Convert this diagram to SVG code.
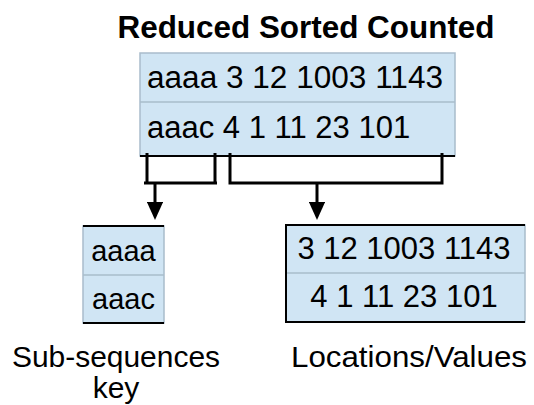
<svg xmlns="http://www.w3.org/2000/svg" width="534" height="405" viewBox="0 0 534 405">
<style>
text{font-family:"Liberation Sans",Arial,Helvetica,sans-serif;fill:#000}
.t{font-size:31px}
.s{font-size:29px}
.l{font-size:30px}
.title{font-size:31px;font-weight:bold}
.cell{fill:#d0e5f4;stroke:#a9bccb;stroke-width:1.5}
.div{stroke:#a9bccb;stroke-width:1.5}
.edge{stroke:#000;stroke-width:2;fill:none}
.conn{stroke:#000;stroke-width:3;fill:none}
</style>
<defs>
<marker id="ah" markerWidth="6" markerHeight="5.4" refX="0" refY="2.7" orient="auto" markerUnits="strokeWidth">
<path d="M0,0 L6,2.7 L0,5.4 Z" fill="#000"/>
</marker>
</defs>
<text class="title" x="306" y="38" text-anchor="middle" textLength="377" lengthAdjust="spacingAndGlyphs">Reduced Sorted Counted</text>
<g id="source">
<rect class="cell" x="140" y="53" width="315" height="103"/>
<line class="div" x1="140" y1="102" x2="455" y2="102"/>
<line class="edge" x1="140" y1="156" x2="455" y2="156"/>
<text class="t" x="147" y="88" textLength="296" lengthAdjust="spacingAndGlyphs">aaaa 3 12 1003 1143</text>
<text class="t" x="147" y="138">aaac 4 1 11 23 101</text>
</g>
<g id="keys">
<rect class="cell" x="83" y="226" width="81" height="97"/>
<line class="div" x1="83" y1="275" x2="164" y2="275"/>
<line class="edge" x1="83" y1="226" x2="164" y2="226"/>
<line class="edge" x1="83" y1="323" x2="164" y2="323"/>
<text class="s" x="123.5" y="261" text-anchor="middle">aaaa</text>
<text class="s" x="123.5" y="309" text-anchor="middle">aaac</text>
</g>
<g id="values">
<rect class="cell" x="286" y="225" width="239" height="97"/>
<line class="div" x1="286" y1="273" x2="525" y2="273"/>
<path class="edge" d="M525,225 H286 V322 H525"/>
<text class="t" x="404" y="259" text-anchor="middle">3 12 1003 1143</text>
<text class="t" x="404" y="307" text-anchor="middle">4 1 11 23 101</text>
</g>
<g id="label-keys">
<text class="l" x="116" y="367" text-anchor="middle" textLength="208" lengthAdjust="spacingAndGlyphs">Sub-sequences</text>
<text class="l" x="116" y="398" text-anchor="middle">key</text>
</g>
<g id="label-values">
<text class="l" x="409" y="367" text-anchor="middle" textLength="236" lengthAdjust="spacingAndGlyphs">Locations/Values</text>
</g>
<g id="connectors">
<path class="conn" d="M147,153 V183 M215,153 V183 M144,183 H217"/>
<path class="conn" d="M155,183 V202" marker-end="url(#ah)"/>
<path class="conn" d="M230,153 V183 H442 V153"/>
<path class="conn" d="M317,183 V202" marker-end="url(#ah)"/>
</g>
</svg>
